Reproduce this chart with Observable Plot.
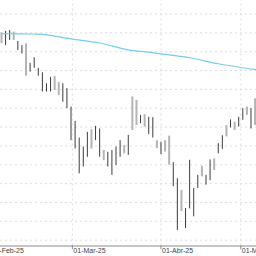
<!DOCTYPE html>
<html><head><meta charset="utf-8">
<script src="https://cdn.jsdelivr.net/npm/d3@7"></script>
<script src="https://cdn.jsdelivr.net/npm/@observablehq/plot@0.6"></script>
<style>html,body{margin:0;padding:0;background:#fff;overflow:hidden}</style>
</head><body><div id="chart"></div>
<script>
// Daily bars (trading-day index order)
const highs = [15.50,15.54,15.56,15.52,15.27,15.16,15.21,14.69,14.84,14.56,
  14.44,14.15,14.32,14.34,14.18,14.15,14.02,13.53,13.15,12.71,
  12.47,12.86,12.93,13.02,12.95,12.38,12.33,12.38,12.47,12.64,
  12.51,12.78,13.80,13.71,13.31,13.33,13.26,13.25,12.64,12.60,
  12.64,12.76,12.06,11.63,11.32,10.84,12.12,11.37,11.72,11.96,
  11.72,12.13,12.16,12.56,12.77,13.04,13.19,13.13,13.26,13.49,
  13.53,13.49,13.75];
const lows = [15.21,15.16,15.30,15.30,15.03,14.94,14.35,14.46,14.56,14.35,
  13.93,13.93,13.93,13.97,13.84,13.66,13.49,12.64,12.42,11.76,
  11.94,12.20,12.42,12.64,12.20,12.11,11.94,11.72,11.98,12.20,
  12.29,12.25,12.91,13.04,13.09,13.00,12.80,12.71,12.43,12.27,
  12.34,11.99,11.42,10.26,10.76,10.31,10.83,10.62,11.37,11.68,
  11.46,11.58,11.85,12.29,12.41,12.74,12.98,12.91,13.00,13.18,
  13.31,12.95,13.04];
const tones = ("g d d g d d g d d d " +
  "d d d g g d d d d d " +
  "d d g d d g d d d d " +
  "g d g g d g d d g d " +
  "g g d d g d d d d g " +
  "d d g d d g d g d d " +
  "g d g").trim().split(" ");
// Moving average line
const maIndex = [0, 8, 10, 17, 24, 31, 36, 39, 46, 53, 62.35];
const maValue = [15.48, 15.47, 15.46, 15.34, 15.23, 15.05, 14.99, 14.94, 14.84, 14.68, 14.52];
// X axis ticks
const tickPos = [-2.67, 17.33, 39, 58.5];
const tickLabels = ["01-Feb-25", "01-Mar-25", "01-Abr-25", "01-May-25"];
// Horizontal grid values
const gridValues = [10, 10.5, 11, 11.5, 12, 12.5, 13, 13.5, 14, 14.5, 15, 15.5, 16];

const yMin = 9.846, yMax = 16.358;
const bars = highs.map((h, i) => ({i, high: h, low: lows[i], tone: tones[i]}));
const ma = maIndex.map((x, k) => ({x, y: maValue[k]}));
const ticks = tickPos.map((p, k) => ({pos: p, label: tickLabels[k]}));

const chart = Plot.plot({
  width: 256, height: 256,
  marginTop: 0, marginRight: 0, marginLeft: 0, marginBottom: 10.5,
  x: {domain: [-0.24, 62.35], axis: null},
  y: {domain: [yMin, yMax], axis: null},
  style: {fontFamily: "'Liberation Sans', Arial, sans-serif", background: "#fff"},
  marks: [
    Plot.ruleY(gridValues, {stroke: "#dcdcdc", strokeDasharray: "2,3"}),
    Plot.ruleX(ticks, {x: "pos", y1: yMin, y2: yMax, stroke: "#dcdcdc", strokeDasharray: "2,3"}),
    Plot.ruleX(bars.filter(d => d.tone === "g"), {x: "i", y1: "low", y2: "high", stroke: "#b4b4b4", strokeWidth: 2}),
    Plot.ruleX(bars.filter(d => d.tone === "d"), {x: "i", y1: "low", y2: "high", stroke: "#3c3c3c", strokeWidth: 1}),
    Plot.line(ma, {x: "x", y: "y", stroke: "#72cdf1", strokeWidth: 1.2, curve: "catmull-rom"}),
    Plot.ruleY([yMin], {stroke: "#8a8a8a"}),
    Plot.ruleX(ticks, {x: "pos", y1: yMin, y2: yMin - 0.1, stroke: "#8a8a8a"}),
    Plot.text(ticks, {x: "pos", y: yMin, text: "label", textAnchor: "start", dx: 1, dy: 5, fontSize: 7, fill: "#444"})
  ]
});
document.getElementById("chart").appendChild(chart);
</script>
</body></html>
